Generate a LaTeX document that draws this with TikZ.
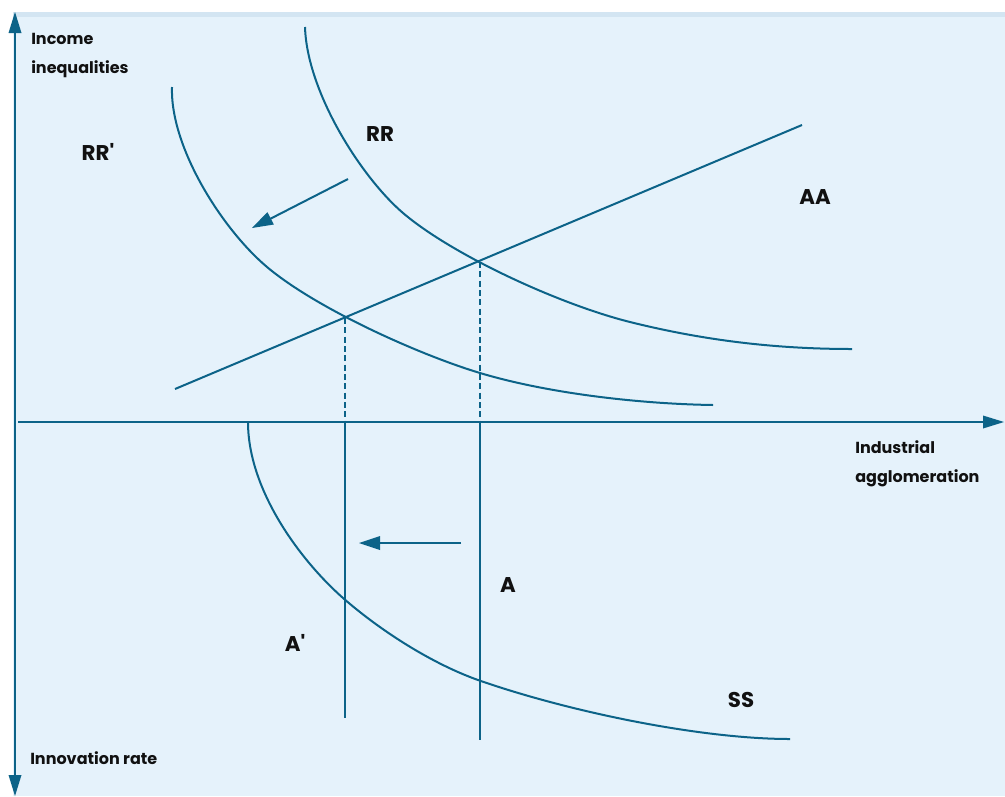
\documentclass[tikz,border=0pt]{standalone}
\usepackage{fontspec}
\setmainfont{Poppins}
\usepackage{tikz}
\definecolor{curveblue}{RGB}{12,99,136}
\definecolor{paneblue}{RGB}{229,242,251}
\definecolor{bandblue}{RGB}{211,229,242}
\definecolor{labelblack}{RGB}{17,17,17}
\newcommand{\axisfont}{\bfseries\fontsize{12}{21.75}\selectfont}
\newcommand{\curvefont}{\bfseries\fontsize{16}{19}\selectfont}

\begin{document}
\begin{tikzpicture}[x=0.75pt,y=0.75pt,yscale=-1,xscale=1]
\useasboundingbox (0,0) rectangle (1005,796);

%Shape: Rectangle [id:pane]
\fill [paneblue] (13,12) rectangle (1005,796);
\fill [bandblue] (13,12) rectangle (1005,16.5);

%Straight Lines [id:vaxis]
\draw [color=curveblue, line width=2pt]   (15,30) -- (15,778) ;
\draw [shift={(15,12)}, rotate = 90] [fill=curveblue][line width=0.08]  [draw opacity=0] (21,-6.5) -- (0,0) -- (21,6.5) -- cycle    ;
\draw [shift={(15,796)}, rotate = 270] [fill=curveblue][line width=0.08]  [draw opacity=0] (21,-6.5) -- (0,0) -- (21,6.5) -- cycle    ;
%Straight Lines [id:haxis]
\draw [color=curveblue, line width=1.8pt]   (18,422) -- (986,422) ;
\draw [shift={(1004,422)}, rotate = 180] [fill=curveblue][line width=0.08]  [draw opacity=0] (21,-6.5) -- (0,0) -- (21,6.5) -- cycle    ;

%Straight Lines [id:aaline]
\draw [color=curveblue, line width=1.5pt]   (175,389) -- (802,125) ;
\coordinate (E) at (480,262);
\coordinate (Ep) at (345,318);

%Curve Lines [id:rrcurve]
\draw [color=curveblue, line width=1.5pt]   (305,27) .. controls (307,92) and (361,177) .. (403,213) .. controls (453,255.5) and (560,304.5) .. (630,322) .. controls (705,340.75) and (777,349) .. (852,349) ;
%Curve Lines [id:rrpcurve]
\draw [color=curveblue, line width=1.5pt]   (172,87) .. controls (170,147) and (222,229) .. (267,267) .. controls (317,309) and (420,355) .. (480,373) .. controls (550,394) and (643,404) .. (713,405) ;
%Curve Lines [id:sscurve]
\draw [color=curveblue, line width=1.5pt]   (248,422) .. controls (248,490) and (300,560) .. (343,598) .. controls (382,632) and (433,664) .. (478,680) .. controls (568,711.5) and (700,739) .. (790,739) ;

%Straight Lines [id:dashA]
\draw [color=curveblue, line width=1.4pt, dash pattern={on 4.5pt off 2.5pt}]   (E) -- (480,422) ;
%Straight Lines [id:dashAp]
\draw [color=curveblue, line width=1.4pt, dash pattern={on 4.5pt off 2.5pt}]   (Ep) -- (345,422) ;
%Straight Lines [id:lineA]
\draw [color=curveblue, line width=1.5pt]   (480,422) -- (480,740) ;
%Straight Lines [id:lineAp]
\draw [color=curveblue, line width=1.5pt]   (345,422) -- (345,718) ;

%Straight Lines [id:shiftRR]
\draw [color=curveblue, line width=1.5pt]   (348,179) -- (266,221) ;
\draw [shift={(252,228)}, rotate = 332.5] [fill=curveblue][line width=0.08]  [draw opacity=0] (21,-7) -- (0,0) -- (21,7) -- cycle    ;
%Straight Lines [id:shiftA]
\draw [color=curveblue, line width=1.5pt]   (461,543) -- (375,543) ;
\draw [shift={(359,543)}, rotate = 0] [fill=curveblue][line width=0.08]  [draw opacity=0] (21,-7) -- (0,0) -- (21,7) -- cycle    ;

% Text Node
\draw (31,73) node [anchor=base west][inner sep=0pt]  [color=labelblack, align=left, font=\axisfont]  (incomelab) {Income\\inequalities};
% Text Node
\draw (855,482) node [anchor=base west][inner sep=0pt]  [color=labelblack, align=left, font=\axisfont]  (agglolab) {Industrial\\agglomeration};
% Text Node
\draw (30,764) node [anchor=base west][inner sep=0pt]  [color=labelblack, font=\axisfont]  (innovlab) {Innovation rate};
% Text Node
\draw (98,152) node [inner sep=0pt]  [color=labelblack, font=\curvefont]  (rrplab) {RR\textquotesingle};
% Text Node
\draw (380,134) node [inner sep=0pt]  [color=labelblack, font=\curvefont]  (rrlab) {RR};
% Text Node
\draw (815,197) node [inner sep=0pt]  [color=labelblack, font=\curvefont]  (aalab) {AA};
% Text Node
\draw (508,585) node [inner sep=0pt]  [color=labelblack, font=\curvefont]  (alab) {A};
% Text Node
\draw (295,643) node [inner sep=0pt]  [color=labelblack, font=\curvefont]  (aplab) {A\textquotesingle};
% Text Node
\draw (741,700) node [inner sep=0pt]  [color=labelblack, font=\curvefont]  (sslab) {SS};

\end{tikzpicture}
\end{document}
